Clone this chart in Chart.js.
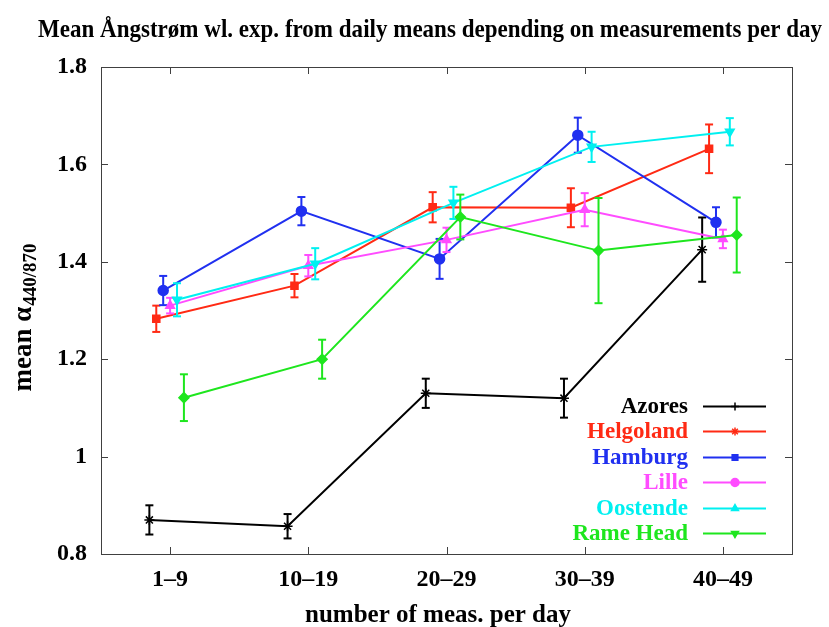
<!DOCTYPE html>
<html><head><meta charset="utf-8">
<script src="https://cdn.jsdelivr.net/npm/chart.js@4.4.1/dist/chart.umd.min.js"></script>
<style>html,body{margin:0;padding:0;background:#fff;}#wrap{width:829px;height:627px;}</style>
</head><body><div id="wrap"><canvas id="c" width="829" height="627"></canvas></div>
<script>
const categories = ['1–9', '10–19', '20–29', '30–39', '40–49'];
const seriesNames = ['Azores', 'Helgoland', 'Hamburg', 'Lille', 'Oostende', 'Rame Head'];
const azores       = [0.870, 0.857, 1.130, 1.120, 1.425];
const azoresErr    = [0.030, 0.025, 0.030, 0.040, 0.066];
const helgoland    = [1.283, 1.351, 1.512, 1.511, 1.632];
const helgolandErr = [0.027, 0.024, 0.031, 0.040, 0.050];
const hamburg      = [1.341, 1.504, 1.406, 1.660, 1.481];
const hamburgErr   = [0.030, 0.029, 0.041, 0.036, 0.031];
const lille        = [1.310, 1.392, 1.445, 1.507, 1.447];
const lilleErr     = [0.016, 0.022, 0.025, 0.034, 0.019];
const oostende     = [1.322, 1.396, 1.521, 1.636, 1.667];
const oostendeErr  = [0.034, 0.032, 0.033, 0.031, 0.028];
const rameHead     = [1.121, 1.200, 1.492, 1.423, 1.455];
const rameHeadErr  = [0.048, 0.040, 0.046, 0.108, 0.077];
const yTicks = [0.8, 1.0, 1.2, 1.4, 1.6, 1.8];

const values = [azores, helgoland, hamburg, lille, oostende, rameHead];
const errors = [azoresErr, helgolandErr, hamburgErr, lilleErr, oostendeErr, rameHeadErr];
const colors = ['#000000', '#ff2a14', '#2030f0', '#ff4cff', '#00f0f0', '#1ee61e'];
const xOffset = [-0.15, -0.10, -0.05, 0.0, 0.05, 0.10];
const dataStyle = [
  {s: 'star', r: 5, rot: 0}, {s: 'rect', r: 5, rot: 0}, {s: 'circle', r: 5, rot: 0},
  {s: 'triangle', r: 5, rot: 0}, {s: 'triangle', r: 5, rot: 180}, {s: 'rectRot', r: 5, rot: 0}
];
const legendStyle = [
  {s: 'cross', r: 4, rot: 0}, {s: 'star', r: 4, rot: 0}, {s: 'rect', r: 4, rot: 0},
  {s: 'circle', r: 4, rot: 0}, {s: 'triangle', r: 4, rot: 0}, {s: 'triangle', r: 4, rot: 180}
];

const datasets = [];
values.forEach((vals, i) => {
  datasets.push({
    label: seriesNames[i],
    data: vals.map((v, j) => ({x: j + 1 + xOffset[i], y: v})),
    showLine: true,
    borderColor: colors[i], backgroundColor: colors[i],
    borderWidth: 2, pointStyle: dataStyle[i].s, pointRadius: dataStyle[i].r,
    pointRotation: dataStyle[i].rot, pointBorderWidth: 1.5, pointHoverRadius: dataStyle[i].r,
    order: 10 - i
  });
  const ed = [];
  vals.forEach((v, j) => {
    const x = j + 1 + xOffset[i];
    ed.push({x: x, y: v - errors[i][j]}, {x: x, y: v + errors[i][j]}, {x: x, y: null});
  });
  datasets.push({
    label: seriesNames[i] + ' err',
    data: ed, showLine: true, spanGaps: false,
    borderColor: colors[i], backgroundColor: colors[i],
    borderWidth: 2, pointStyle: 'line', pointRadius: 4, pointBorderWidth: 2, pointHoverRadius: 4,
    order: 10 - i
  });
});

const FONT = '"Liberation Serif", "Times New Roman", serif';

function drawMarker(ctx, st, x, y, color) {
  ctx.save();
  ctx.fillStyle = color; ctx.strokeStyle = color; ctx.lineWidth = 1.5;
  if (Chart.helpers && Chart.helpers.drawPoint) {
    Chart.helpers.drawPoint(ctx, {pointStyle: st.s, radius: st.r, rotation: st.rot, borderWidth: 1.5}, x, y);
  }
  ctx.restore();
}

const decor = {
  id: 'decor',
  afterDraw(chart) {
    const ctx = chart.ctx, a = chart.chartArea;
    const xs = chart.scales.x, ys = chart.scales.y;
    ctx.save();
    ctx.strokeStyle = '#404040'; ctx.lineWidth = 1;
    ctx.strokeRect(Math.round(a.left) + 0.5, Math.round(a.top) + 0.5, Math.round(a.right - a.left), Math.round(a.bottom - a.top));
    ctx.beginPath();
    yTicks.forEach(v => {
      const py = Math.round(ys.getPixelForValue(v)) + 0.5;
      ctx.moveTo(a.left, py); ctx.lineTo(a.left + 7, py);
      ctx.moveTo(a.right, py); ctx.lineTo(a.right - 7, py);
    });
    categories.forEach((c, j) => {
      const px = Math.round(xs.getPixelForValue(j + 1)) + 0.5;
      ctx.moveTo(px, a.bottom); ctx.lineTo(px, a.bottom - 7);
      ctx.moveTo(px, a.top); ctx.lineTo(px, a.top + 7);
    });
    ctx.stroke();

    const title = 'Mean Ångstrøm wl. exp. from daily means depending on measurements per day';
    ctx.fillStyle = '#000';
    ctx.font = 'bold 25px ' + FONT;
    ctx.textBaseline = 'middle'; ctx.textAlign = 'left';
    const tw = ctx.measureText(title).width;
    ctx.save();
    ctx.translate(38, 31);
    ctx.scale(784 / tw, 1);
    ctx.fillText(title, 0, 0);
    ctx.restore();

    ctx.font = 'bold 25px ' + FONT;
    ctx.textAlign = 'center';
    ctx.fillText('number of meas. per day', 438, 616);

    ctx.save();
    ctx.translate(24, 318);
    ctx.rotate(-Math.PI / 2);
    const main = 'mean α', sub = '440/870';
    ctx.font = 'bold 27px ' + FONT;
    const mw = ctx.measureText(main).width;
    ctx.font = 'bold 19px ' + FONT;
    const sw = ctx.measureText(sub).width;
    const start = -(mw + sw) / 2;
    ctx.textAlign = 'left';
    ctx.font = 'bold 27px ' + FONT;
    ctx.fillText(main, start, 0);
    ctx.font = 'bold 19px ' + FONT;
    ctx.fillText(sub, start + mw + 1, 7);
    ctx.restore();

    ctx.font = 'bold 23px ' + FONT;
    ctx.textAlign = 'right'; ctx.textBaseline = 'middle';
    seriesNames.forEach((n, i) => {
      const y = 406 + i * 25.4;
      ctx.fillStyle = colors[i];
      ctx.fillText(n, 688, y + 1);
      ctx.strokeStyle = colors[i]; ctx.lineWidth = 2;
      ctx.beginPath(); ctx.moveTo(703, Math.round(y) + 0.5); ctx.lineTo(766, Math.round(y) + 0.5); ctx.stroke();
      drawMarker(ctx, legendStyle[i], 735, Math.round(y) + 0.5, colors[i]);
    });
    ctx.restore();
  }
};

new Chart(document.getElementById('c'), {
  type: 'scatter',
  data: {datasets: datasets},
  options: {
    responsive: false, animation: false, devicePixelRatio: 1,
    layout: {padding: {top: 67, right: 37, left: 0, bottom: 0}},
    plugins: {legend: {display: false}, title: {display: false}, tooltip: {enabled: false}},
    scales: {
      x: {
        type: 'linear', min: 0.5, max: 5.5,
        afterBuildTicks: s => { s.ticks = categories.map((c, j) => ({value: j + 1})); },
        afterFit: s => { s.height = 73; },
        ticks: {callback: v => categories[Math.round(v) - 1], font: {family: FONT, size: 24, weight: 'bold'}, color: '#000', padding: 11, maxRotation: 0, autoSkip: false},
        grid: {display: false, drawTicks: false}, border: {display: false}
      },
      y: {
        type: 'linear', min: 0.8, max: 1.8,
        afterBuildTicks: s => { s.ticks = yTicks.map(v => ({value: v})); },
        afterFit: s => { s.width = 101; },
        ticks: {callback: v => String(Math.round(v * 10) / 10), font: {family: FONT, size: 24, weight: 'bold'}, color: '#000', padding: 14},
        grid: {display: false, drawTicks: false}, border: {display: false}
      }
    }
  },
  plugins: [decor]
});
</script>
</body></html>
